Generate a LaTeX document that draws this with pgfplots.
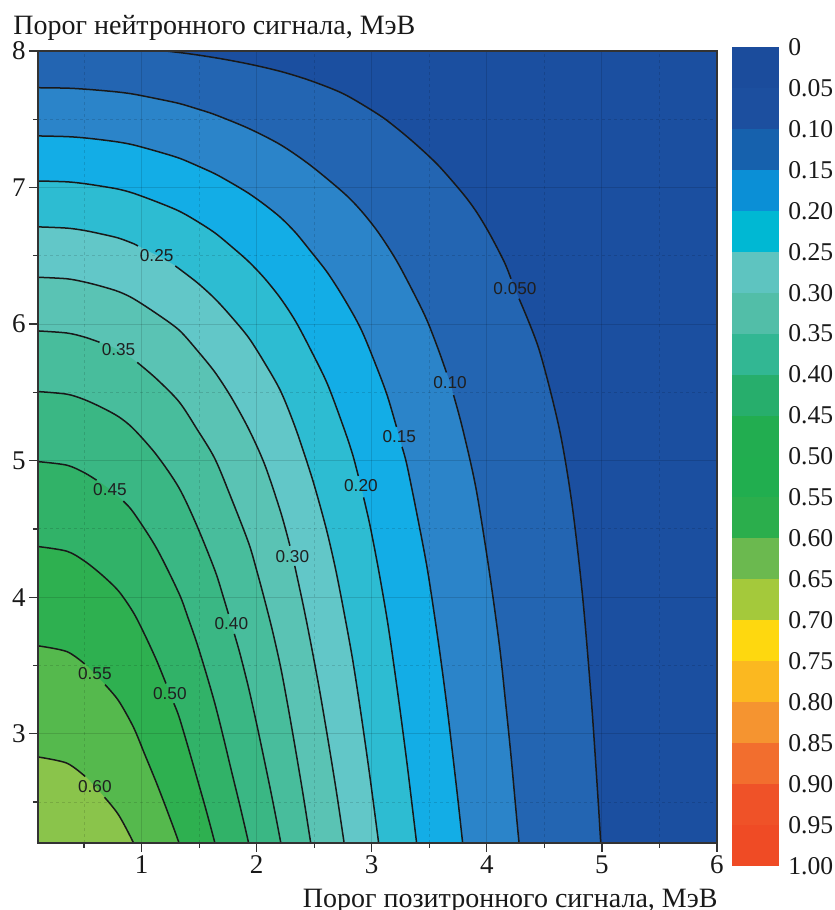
\documentclass[border=0pt]{standalone}
\usepackage{fontspec}
\setmainfont{Liberation Serif}
\newfontfamily\clabfont{Liberation Sans}
\usepackage{pgfplots}
\usepackage{pgfplotstable}
\pgfplotsset{compat=1.18}

% band colours inside the map (level below 0.05 first)
\definecolor{b0}{HTML}{1B4FA0}
\definecolor{b1}{HTML}{2365B2}
\definecolor{b2}{HTML}{2B84C9}
\definecolor{b3}{HTML}{13ADE6}
\definecolor{b4}{HTML}{2DBCD2}
\definecolor{b5}{HTML}{62C7C8}
\definecolor{b6}{HTML}{5AC3B4}
\definecolor{b7}{HTML}{48BD9C}
\definecolor{b8}{HTML}{3AB784}
\definecolor{b9}{HTML}{31B268}
\definecolor{b10}{HTML}{2EB050}
\definecolor{b11}{HTML}{55B94D}
\definecolor{b12}{HTML}{8AC44B}
% colour scale
\definecolor{cb0}{HTML}{1B4C9C}
\definecolor{cb1}{HTML}{1C4F9F}
\definecolor{cb2}{HTML}{1661AD}
\definecolor{cb3}{HTML}{0B8FD6}
\definecolor{cb4}{HTML}{00B8D3}
\definecolor{cb5}{HTML}{5EC4C0}
\definecolor{cb6}{HTML}{52BEA8}
\definecolor{cb7}{HTML}{32B793}
\definecolor{cb8}{HTML}{27AE6C}
\definecolor{cb9}{HTML}{22AD50}
\definecolor{cb10}{HTML}{21AE4F}
\definecolor{cb11}{HTML}{2BAE4C}
\definecolor{cb12}{HTML}{6BB94F}
\definecolor{cb13}{HTML}{A4C93B}
\definecolor{cb14}{HTML}{FED80F}
\definecolor{cb15}{HTML}{FBB820}
\definecolor{cb16}{HTML}{F59430}
\definecolor{cb17}{HTML}{F26E2E}
\definecolor{cb18}{HTML}{EF5228}
\definecolor{cb19}{HTML}{EF4B25}

\tikzset{clab/.style={font=\clabfont\fontsize{8.6}{8.6}\selectfont, text=black!88, inner sep=0pt}}
\pgfplotsset{
  cline/.style={black!90, line width=0.75pt, smooth, unbounded coords=jump},
  cfill/.style={draw=none, smooth},
}

% contour lines: x = positron threshold, y = neutron threshold;
% ly is the drawn line, the nan row leaves room for the level label
\pgfplotstableread{
x y ly
0.100 8.040 8.040
0.930 8.019 8.019
1.325 7.989 7.989
1.637 7.951 7.951
1.930 7.905 7.905
2.210 7.850 7.850
2.470 7.782 7.782
2.760 7.684 7.684
3.060 7.534 7.534
3.220 7.433 7.433
3.390 7.312 7.312
3.580 7.161 7.161
3.790 6.958 6.958
3.905 6.828 6.828
4.020 6.668 6.668
4.150 6.458 6.458
4.210 6.332 6.332
4.245 6.259 nan
4.280 6.186 6.186
4.455 5.811 5.811
4.630 5.233 5.233
4.740 4.682 4.682
4.832 4.008 4.008
4.909 3.237 3.237
4.967 2.515 2.515
4.990 2.200 2.200
5.010 2.000 2.000
}\cfive
\pgfplotstableread{
x y ly
0.100 7.731 7.731
0.350 7.728 7.728
0.500 7.721 7.721
0.650 7.711 7.711
0.800 7.699 7.699
0.930 7.684 7.684
1.130 7.651 7.651
1.325 7.616 7.616
1.480 7.577 7.577
1.637 7.534 7.534
1.930 7.433 7.433
2.210 7.312 7.312
2.470 7.161 7.161
2.760 6.958 6.958
2.910 6.828 6.828
3.060 6.668 6.668
3.220 6.458 6.458
3.390 6.186 6.186
3.485 6.018 6.018
3.580 5.811 5.811
3.649 5.646 5.646
3.680 5.573 nan
3.711 5.480 5.480
3.790 5.233 5.233
3.905 4.801 4.801
4.020 4.197 4.197
4.110 3.644 3.644
4.162 3.237 3.237
4.211 2.830 2.830
4.280 2.200 2.200
4.350 1.670 1.670
}\cten
\pgfplotstableread{
x y ly
0.100 7.378 7.378
0.350 7.373 7.373
0.500 7.364 7.364
0.650 7.350 7.350
0.800 7.333 7.333
0.930 7.312 7.312
1.130 7.266 7.266
1.325 7.216 7.216
1.480 7.161 7.161
1.637 7.101 7.101
1.780 7.034 7.034
1.930 6.958 6.958
2.070 6.874 6.874
2.210 6.779 6.779
2.340 6.668 6.668
2.470 6.533 6.533
2.615 6.377 6.377
2.760 6.186 6.186
2.910 5.957 5.957
3.060 5.648 5.648
3.140 5.463 5.463
3.215 5.247 5.247
3.239 5.174 nan
3.263 5.101 5.101
3.305 4.971 4.971
3.390 4.620 4.620
3.485 4.197 4.197
3.580 3.665 3.665
3.648 3.237 3.237
3.706 2.830 2.830
3.749 2.515 2.515
3.790 2.200 2.200
3.859 1.670 1.670
}\cfifteen
\pgfplotstableread{
x y ly
0.100 7.048 7.048
0.350 7.042 7.042
0.500 7.029 7.029
0.650 7.010 7.010
0.800 6.988 6.988
0.930 6.958 6.958
1.130 6.896 6.896
1.325 6.828 6.828
1.480 6.754 6.754
1.637 6.668 6.668
1.780 6.569 6.569
1.930 6.458 6.458
2.070 6.334 6.334
2.210 6.186 6.186
2.340 6.018 6.018
2.470 5.811 5.811
2.615 5.561 5.561
2.760 5.233 5.233
2.835 5.042 5.042
2.883 4.888 4.888
2.906 4.814 nan
2.929 4.731 4.731
2.985 4.525 4.525
3.060 4.197 4.197
3.140 3.805 3.805
3.220 3.336 3.336
3.305 2.793 2.793
3.390 2.200 2.200
3.466 1.670 1.670
}\ctwenty
\pgfplotstableread{
x y ly
0.100 6.712 6.712
0.350 6.703 6.703
0.500 6.686 6.686
0.650 6.660 6.660
0.800 6.630 6.630
0.930 6.589 6.589
0.969 6.572 6.572
1.131 6.504 nan
1.293 6.426 6.426
1.480 6.306 6.306
1.637 6.186 6.186
1.780 6.054 6.054
1.930 5.901 5.901
2.070 5.715 5.715
2.210 5.506 5.506
2.340 5.233 5.233
2.470 4.904 4.904
2.543 4.694 4.694
2.615 4.467 4.467
2.688 4.197 4.197
2.760 3.886 3.886
2.835 3.538 3.538
2.910 3.126 3.126
2.985 2.680 2.680
3.060 2.200 2.200
3.124 1.780 1.780
}\ctwentyfive
\pgfplotstableread{
x y ly
0.100 6.343 6.343
0.350 6.332 6.332
0.500 6.309 6.309
0.650 6.277 6.277
0.800 6.238 6.238
0.930 6.186 6.186
1.130 6.077 6.077
1.325 5.957 5.957
1.480 5.811 5.811
1.637 5.648 5.648
1.780 5.463 5.463
1.930 5.233 5.233
2.070 4.971 4.971
2.210 4.620 4.620
2.289 4.377 4.377
2.310 4.300 nan
2.331 4.229 4.229
2.405 3.940 3.940
2.470 3.665 3.665
2.543 3.336 3.336
2.615 2.981 2.981
2.688 2.603 2.603
2.760 2.200 2.200
2.820 1.850 1.850
}\cthirty
\pgfplotstableread{
x y ly
0.100 5.950 5.950
0.350 5.935 5.935
0.500 5.906 5.906
0.635 5.867 5.867
0.800 5.811 nan
0.962 5.720 5.720
1.130 5.599 5.599
1.325 5.432 5.432
1.480 5.233 5.233
1.637 5.014 5.014
1.780 4.724 4.724
1.930 4.398 4.398
2.000 4.197 4.197
2.070 3.978 3.978
2.140 3.745 3.745
2.210 3.481 3.481
2.275 3.187 3.187
2.340 2.873 2.873
2.405 2.547 2.547
2.470 2.200 2.200
2.528 1.900 1.900
}\cthirtyfive
\pgfplotstableread{
x y ly
0.100 5.506 5.506
0.350 5.487 5.487
0.500 5.448 5.448
0.650 5.391 5.391
0.800 5.322 5.322
0.930 5.233 5.233
1.130 5.042 5.042
1.325 4.801 4.801
1.480 4.525 4.525
1.637 4.197 4.197
1.709 4.006 4.006
1.755 3.877 3.877
1.780 3.805 nan
1.806 3.731 3.731
1.855 3.587 3.587
1.930 3.336 3.336
2.000 3.072 3.072
2.070 2.793 2.793
2.140 2.506 2.506
2.210 2.200 2.200
2.262 1.940 1.940
}\cforty
\pgfplotstableread{
x y ly
0.100 4.993 4.993
0.350 4.967 4.967
0.500 4.913 4.913
0.609 4.857 4.857
0.725 4.789 nan
0.841 4.704 4.704
0.930 4.620 4.620
1.130 4.359 4.359
1.325 4.028 4.028
1.403 3.851 3.851
1.480 3.665 3.665
1.559 3.449 3.449
1.637 3.221 3.221
1.709 2.981 2.981
1.780 2.731 2.731
1.855 2.472 2.472
1.930 2.200 2.200
1.986 1.970 1.970
}\cfortyfive
\pgfplotstableread{
x y ly
0.100 4.371 4.371
0.350 4.337 4.337
0.500 4.267 4.267
0.650 4.167 4.167
0.800 4.045 4.045
0.930 3.886 3.886
1.030 3.721 3.721
1.130 3.538 3.538
1.212 3.368 3.368
1.246 3.296 nan
1.280 3.223 3.223
1.325 3.126 3.126
1.403 2.906 2.906
1.480 2.680 2.680
1.559 2.446 2.446
1.637 2.200 2.200
1.694 1.995 1.995
}\cfifty
\pgfplotstableread{
x y ly
0.100 3.644 3.644
0.350 3.602 3.602
0.506 3.511 3.511
0.594 3.438 nan
0.682 3.360 3.360
0.800 3.242 3.242
0.930 3.047 3.047
1.030 2.844 2.844
1.130 2.639 2.639
1.228 2.424 2.424
1.325 2.200 2.200
1.388 2.013 2.013
}\cfiftyfive
\pgfplotstableread{
x y ly
0.100 2.830 2.830
0.350 2.785 2.785
0.510 2.687 2.687
0.594 2.613 nan
0.678 2.535 2.535
0.800 2.406 2.406
0.930 2.200 2.200
1.010 2.027 2.027
}\csixty

\begin{document}
\begin{tikzpicture}
\useasboundingbox (-19pt,-33.5pt) rectangle (398.5pt,421.5pt);
\begin{axis}[
  at={(0,0)}, anchor=south west,
  width=339.5pt, height=396pt, scale only axis,
  xmin=0.1, xmax=6, ymin=2.2, ymax=8,
  xtick={1,2,3,4,5,6}, ytick={3,4,5,6,7,8},
  minor xtick={0.5,1.5,2.5,3.5,4.5,5.5},
  minor ytick={2.5,3.5,4.5,5.5,6.5,7.5},
  tick pos=left, tick align=outside,
  major tick length=4.5pt, minor tick length=2.5pt,
  grid=both,
  major grid style={black, opacity=0.13, line width=0.5pt},
  minor grid style={black, opacity=0.13, line width=0.5pt, dash pattern=on 1.5pt off 1.5pt},
  axis on top,
  axis line style={draw=black!80, line width=0.6pt},
  tick style={black!80, line width=0.6pt},
  axis background/.style={fill=b0},
  ticklabel style={font=\fontsize{13.5}{13.5}\selectfont, text=black!90, inner sep=1.5pt},
  /pgf/number format/assume math mode=true,
]
% filled bands, outermost first
\addplot[cfill, fill=b1]  table[x=x,y=y] {\cfive} \closedcycle;
\addplot[cfill, fill=b2]  table[x=x,y=y] {\cten} \closedcycle;
\addplot[cfill, fill=b3]  table[x=x,y=y] {\cfifteen} \closedcycle;
\addplot[cfill, fill=b4]  table[x=x,y=y] {\ctwenty} \closedcycle;
\addplot[cfill, fill=b5]  table[x=x,y=y] {\ctwentyfive} \closedcycle;
\addplot[cfill, fill=b6]  table[x=x,y=y] {\cthirty} \closedcycle;
\addplot[cfill, fill=b7]  table[x=x,y=y] {\cthirtyfive} \closedcycle;
\addplot[cfill, fill=b8]  table[x=x,y=y] {\cforty} \closedcycle;
\addplot[cfill, fill=b9]  table[x=x,y=y] {\cfortyfive} \closedcycle;
\addplot[cfill, fill=b10] table[x=x,y=y] {\cfifty} \closedcycle;
\addplot[cfill, fill=b11] table[x=x,y=y] {\cfiftyfive} \closedcycle;
\addplot[cfill, fill=b12] table[x=x,y=y] {\csixty} \closedcycle;
% contour lines
\addplot[cline] table[x=x,y=ly] {\cfive};
\addplot[cline] table[x=x,y=ly] {\cten};
\addplot[cline] table[x=x,y=ly] {\cfifteen};
\addplot[cline] table[x=x,y=ly] {\ctwenty};
\addplot[cline] table[x=x,y=ly] {\ctwentyfive};
\addplot[cline] table[x=x,y=ly] {\cthirty};
\addplot[cline] table[x=x,y=ly] {\cthirtyfive};
\addplot[cline] table[x=x,y=ly] {\cforty};
\addplot[cline] table[x=x,y=ly] {\cfortyfive};
\addplot[cline] table[x=x,y=ly] {\cfifty};
\addplot[cline] table[x=x,y=ly] {\cfiftyfive};
\addplot[cline] table[x=x,y=ly] {\csixty};
% level labels
\node[clab] at (axis cs:4.245,6.259) {0.050};
\node[clab] at (axis cs:3.680,5.573) {0.10};
\node[clab] at (axis cs:3.239,5.174) {0.15};
\node[clab] at (axis cs:2.906,4.814) {0.20};
\node[clab] at (axis cs:1.131,6.504) {0.25};
\node[clab] at (axis cs:2.310,4.300) {0.30};
\node[clab] at (axis cs:0.800,5.811) {0.35};
\node[clab] at (axis cs:1.780,3.805) {0.40};
\node[clab] at (axis cs:0.725,4.789) {0.45};
\node[clab] at (axis cs:1.246,3.296) {0.50};
\node[clab] at (axis cs:0.594,3.438) {0.55};
\node[clab] at (axis cs:0.594,2.613) {0.60};
\end{axis}

% colour scale
\begin{axis}[
  at={(346.85pt,-11.5pt)}, anchor=south west,
  width=23.65pt, height=409.5pt, scale only axis,
  xmin=0, xmax=1, ymin=0, ymax=1, y dir=reverse,
  axis line style={draw=none},
  xtick=\empty,
  ytick={0,0.05,0.1,0.15,0.2,0.25,0.3,0.35,0.4,0.45,0.5,0.55,0.6,0.65,0.7,0.75,0.8,0.85,0.9,0.95,1},
  yticklabels={0,0.05,0.10,0.15,0.20,0.25,0.30,0.35,0.40,0.45,0.50,0.55,0.60,0.65,0.70,0.75,0.80,0.85,0.90,0.95,1.00},
  yticklabel pos=right,
  major tick length=0pt,
  yticklabel style={font=\fontsize{12.8}{12.8}\selectfont, text=black!90, anchor=west, inner sep=0pt, xshift=4.5pt},
]
\addplot[draw=none, fill=cb0]  coordinates {(0,0.00) (1,0.00) (1,0.05) (0,0.05)};
\addplot[draw=none, fill=cb1]  coordinates {(0,0.05) (1,0.05) (1,0.10) (0,0.10)};
\addplot[draw=none, fill=cb2]  coordinates {(0,0.10) (1,0.10) (1,0.15) (0,0.15)};
\addplot[draw=none, fill=cb3]  coordinates {(0,0.15) (1,0.15) (1,0.20) (0,0.20)};
\addplot[draw=none, fill=cb4]  coordinates {(0,0.20) (1,0.20) (1,0.25) (0,0.25)};
\addplot[draw=none, fill=cb5]  coordinates {(0,0.25) (1,0.25) (1,0.30) (0,0.30)};
\addplot[draw=none, fill=cb6]  coordinates {(0,0.30) (1,0.30) (1,0.35) (0,0.35)};
\addplot[draw=none, fill=cb7]  coordinates {(0,0.35) (1,0.35) (1,0.40) (0,0.40)};
\addplot[draw=none, fill=cb8]  coordinates {(0,0.40) (1,0.40) (1,0.45) (0,0.45)};
\addplot[draw=none, fill=cb9]  coordinates {(0,0.45) (1,0.45) (1,0.50) (0,0.50)};
\addplot[draw=none, fill=cb10] coordinates {(0,0.50) (1,0.50) (1,0.55) (0,0.55)};
\addplot[draw=none, fill=cb11] coordinates {(0,0.55) (1,0.55) (1,0.60) (0,0.60)};
\addplot[draw=none, fill=cb12] coordinates {(0,0.60) (1,0.60) (1,0.65) (0,0.65)};
\addplot[draw=none, fill=cb13] coordinates {(0,0.65) (1,0.65) (1,0.70) (0,0.70)};
\addplot[draw=none, fill=cb14] coordinates {(0,0.70) (1,0.70) (1,0.75) (0,0.75)};
\addplot[draw=none, fill=cb15] coordinates {(0,0.75) (1,0.75) (1,0.80) (0,0.80)};
\addplot[draw=none, fill=cb16] coordinates {(0,0.80) (1,0.80) (1,0.85) (0,0.85)};
\addplot[draw=none, fill=cb17] coordinates {(0,0.85) (1,0.85) (1,0.90) (0,0.90)};
\addplot[draw=none, fill=cb18] coordinates {(0,0.90) (1,0.90) (1,0.95) (0,0.95)};
\addplot[draw=none, fill=cb19] coordinates {(0,0.95) (1,0.95) (1,1.00) (0,1.00)};
\end{axis}

\node[anchor=base west, inner sep=0pt, font=\fontsize{14}{14}\selectfont, text=black!90] at (-12.5pt,404pt) {Порог нейтронного сигнала, МэВ};
\node[anchor=base east, inner sep=0pt, font=\fontsize{14}{14}\selectfont, text=black!90] at (340pt,-32pt) {Порог позитронного сигнала, МэВ};
\end{tikzpicture}
\end{document}
